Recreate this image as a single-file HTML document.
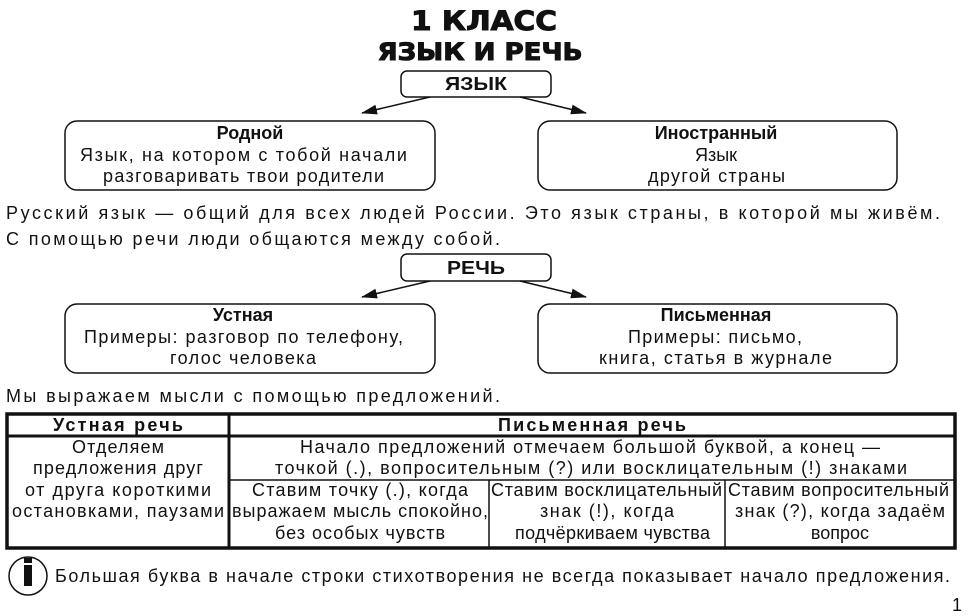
<!DOCTYPE html>
<html><head><meta charset="utf-8"><style>
html,body{margin:0;padding:0;background:#fff;}
svg{display:block;}
text{font-family:"Liberation Sans","DejaVu Sans",sans-serif;font-size:18px;fill:#111;}
.b{font-weight:bold;}
</style></head><body>
<svg width="968" height="616" viewBox="0 0 968 616" xmlns="http://www.w3.org/2000/svg">
<defs><marker id="a" markerWidth="16" markerHeight="10" refX="15" refY="5" orient="auto" markerUnits="userSpaceOnUse"><path d="M0,0 L16,5 L0,10 z" fill="#111"/></marker></defs>
<g stroke="#111" fill="none">
<text x="484" y="30" text-anchor="middle" class="b" style="font-size:27px;font-family:'DejaVu Sans',sans-serif;font-weight:900" textLength="146" lengthAdjust="spacingAndGlyphs">1 КЛАСС</text>
<text x="480" y="60" text-anchor="middle" class="b" style="font-size:24px;font-family:'DejaVu Sans',sans-serif;font-weight:900" textLength="205" lengthAdjust="spacingAndGlyphs">ЯЗЫК И РЕЧЬ</text>
<rect x="401" y="71" width="150" height="26" rx="6" stroke-width="1.5"/>
<line x1="430" y1="97" x2="362" y2="113" stroke-width="1.5" marker-end="url(#a)"/>
<line x1="520" y1="97" x2="586" y2="113" stroke-width="1.5" marker-end="url(#a)"/>
<rect x="65" y="121" width="370" height="69" rx="12" stroke-width="1.5"/>
<rect x="538" y="121" width="359" height="69" rx="12" stroke-width="1.5"/>
<rect x="401" y="254" width="150" height="27" rx="6" stroke-width="1.5"/>
<line x1="430" y1="281" x2="362" y2="297" stroke-width="1.5" marker-end="url(#a)"/>
<line x1="520" y1="281" x2="586" y2="297" stroke-width="1.5" marker-end="url(#a)"/>
<rect x="65" y="304" width="370" height="69" rx="12" stroke-width="1.5"/>
<rect x="538" y="304" width="359" height="69" rx="12" stroke-width="1.5"/>
<rect x="7" y="414" width="948" height="134" stroke-width="3.5"/>
<line x1="7" y1="436" x2="955" y2="436" stroke-width="3"/>
<line x1="229" y1="414" x2="229" y2="548" stroke-width="3"/>
<line x1="229" y1="480" x2="955" y2="480" stroke-width="1.5"/>
<line x1="489" y1="480" x2="489" y2="548" stroke-width="1.5"/>
<line x1="725" y1="480" x2="725" y2="548" stroke-width="1.5"/>
<circle cx="28" cy="576" r="19" stroke-width="1.5"/>
</g>
<rect x="24" y="565" width="8" height="21" fill="#111"/>
<rect x="24" y="558" width="8" height="5" fill="#111"/>

<text x="476" y="90" text-anchor="middle" class="b" textLength="62" lengthAdjust="spacingAndGlyphs">ЯЗЫК</text>
<text x="250" y="139" text-anchor="middle" class="b">Родной</text>
<text x="80" y="161" textLength="327" lengthAdjust="spacing">Язык, на котором с тобой начали</text>
<text x="103" y="182" textLength="281" lengthAdjust="spacing">разговаривать твои родители</text>
<text x="716" y="139" text-anchor="middle" class="b">Иностранный</text>
<text x="716" y="161" text-anchor="middle">Язык</text>
<text x="648" y="182" textLength="137" lengthAdjust="spacing">другой страны</text>

<text x="6" y="219" textLength="934" lengthAdjust="spacing">Русский язык — общий для всех людей России. Это язык страны, в которой мы живём.</text>
<text x="6" y="245" textLength="494" lengthAdjust="spacing">С помощью речи люди общаются между собой.</text>

<text x="476" y="274" text-anchor="middle" class="b" textLength="58" lengthAdjust="spacingAndGlyphs">РЕЧЬ</text>
<text x="243" y="321" text-anchor="middle" class="b">Устная</text>
<text x="84" y="343" textLength="319" lengthAdjust="spacing">Примеры: разговор по телефону,</text>
<text x="170" y="364" textLength="146" lengthAdjust="spacing">голос человека</text>
<text x="716" y="321" text-anchor="middle" class="b">Письменная</text>
<text x="628" y="343" textLength="174" lengthAdjust="spacing">Примеры: письмо,</text>
<text x="599" y="364" textLength="233" lengthAdjust="spacing">книга, статья в журнале</text>

<text x="6" y="402" textLength="494" lengthAdjust="spacing">Мы выражаем мысли с помощью предложений.</text>

<text x="118" y="431" text-anchor="middle" class="b" textLength="130" lengthAdjust="spacing">Устная речь</text>
<text x="592" y="431" text-anchor="middle" class="b" textLength="188" lengthAdjust="spacing">Письменная речь</text>
<text x="118" y="453" text-anchor="middle" textLength="92" lengthAdjust="spacing">Отделяем</text>
<text x="118" y="474" text-anchor="middle" textLength="170" lengthAdjust="spacing">предложения друг</text>
<text x="118" y="496" text-anchor="middle" textLength="186" lengthAdjust="spacing">от друга короткими</text>
<text x="12" y="517" textLength="212" lengthAdjust="spacing">остановками, паузами</text>
<text x="300" y="453" textLength="580" lengthAdjust="spacing">Начало предложений отмечаем большой буквой, а конец —</text>
<text x="275" y="474" textLength="632" lengthAdjust="spacing">точкой (.), вопросительным (?) или восклицательным (!) знаками</text>
<text x="252" y="496" textLength="216" lengthAdjust="spacing">Ставим точку (.), когда</text>
<text x="232" y="517" textLength="256" lengthAdjust="spacing">выражаем мысль спокойно,</text>
<text x="275" y="539" textLength="170" lengthAdjust="spacing">без особых чувств</text>
<text x="491" y="496" textLength="231" lengthAdjust="spacing">Ставим восклицательный</text>
<text x="540" y="517" textLength="134" lengthAdjust="spacing">знак (!), когда</text>
<text x="515" y="539" textLength="195" lengthAdjust="spacing">подчёркиваем чувства</text>
<text x="728" y="496" textLength="221" lengthAdjust="spacing">Ставим вопросительный</text>
<text x="735" y="517" textLength="210" lengthAdjust="spacing">знак (?), когда задаём</text>
<text x="840" y="539" text-anchor="middle">вопрос</text>

<text x="55" y="582" textLength="895" lengthAdjust="spacing">Большая буква в начале строки стихотворения не всегда показывает начало предложения.</text>
<text x="952" y="611" style="font-size:18px">1</text>
</svg>
</body></html>
